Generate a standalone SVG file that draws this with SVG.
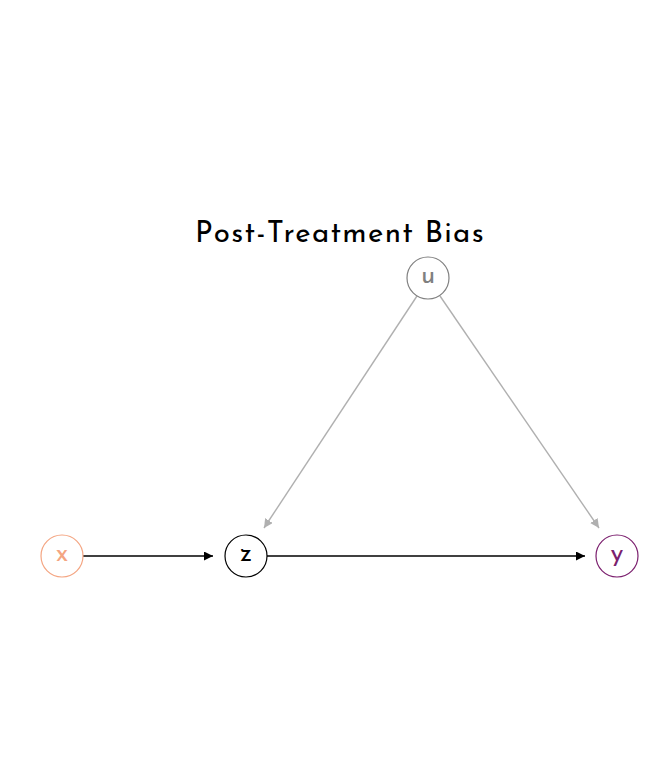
<svg xmlns="http://www.w3.org/2000/svg" width="672" height="768" viewBox="0 0 672 768">
<defs>
<style>
.lbl{font-family:"Josefin Sans","Lato","Noto Sans",sans-serif;font-size:26px;text-anchor:middle;dominant-baseline:central}
.nc{fill:#fff;stroke-width:1.2}
.e{fill:none;stroke-width:1.4}
</style>
<marker id="ab" viewBox="0 0 10 10" refX="10" refY="5" markerWidth="9" markerHeight="9" markerUnits="userSpaceOnUse" orient="auto"><path d="M0,0L10,5L0,10z" fill="#000"/></marker>
<marker id="ag" viewBox="0 0 10 10" refX="10" refY="5" markerWidth="9" markerHeight="9" markerUnits="userSpaceOnUse" orient="auto"><path d="M0,0L10,5L0,10z" fill="#b0b0b0"/></marker>
</defs>
<rect width="672" height="768" fill="#fff"/>
<text x="340" y="242" font-family="Josefin Sans, Lato, Noto Sans, sans-serif" font-size="29.5" text-anchor="middle" fill="#000" letter-spacing="1.3">Post-Treatment Bias</text>
<g id="edges">
<line class="e" x1="417" y1="296" x2="264" y2="528" stroke="#b0b0b0" marker-end="url(#ag)"/>
<line class="e" x1="440" y1="296" x2="599" y2="528" stroke="#b0b0b0" marker-end="url(#ag)"/>
<line class="e" x1="83" y1="556" x2="213" y2="556" stroke="#000" marker-end="url(#ab)"/>
<line class="e" x1="267" y1="556" x2="585" y2="556" stroke="#000" marker-end="url(#ab)"/>
</g>
<g id="node-u"><circle class="nc" cx="428" cy="278" r="21" stroke="#808080"/><text class="lbl" x="428" y="276" fill="#808080">u</text></g>
<g id="node-x"><circle class="nc" cx="62" cy="556" r="21" stroke="#f4a582"/><text class="lbl" x="62" y="554" fill="#f4a582">x</text></g>
<g id="node-z"><circle class="nc" cx="246" cy="556" r="21" stroke="#000"/><text class="lbl" x="246" y="554" fill="#000">z</text></g>
<g id="node-y"><circle class="nc" cx="617" cy="556" r="21" stroke="#7b1f6e"/><text class="lbl" x="617" y="554" fill="#7b1f6e">y</text></g>
</svg>
